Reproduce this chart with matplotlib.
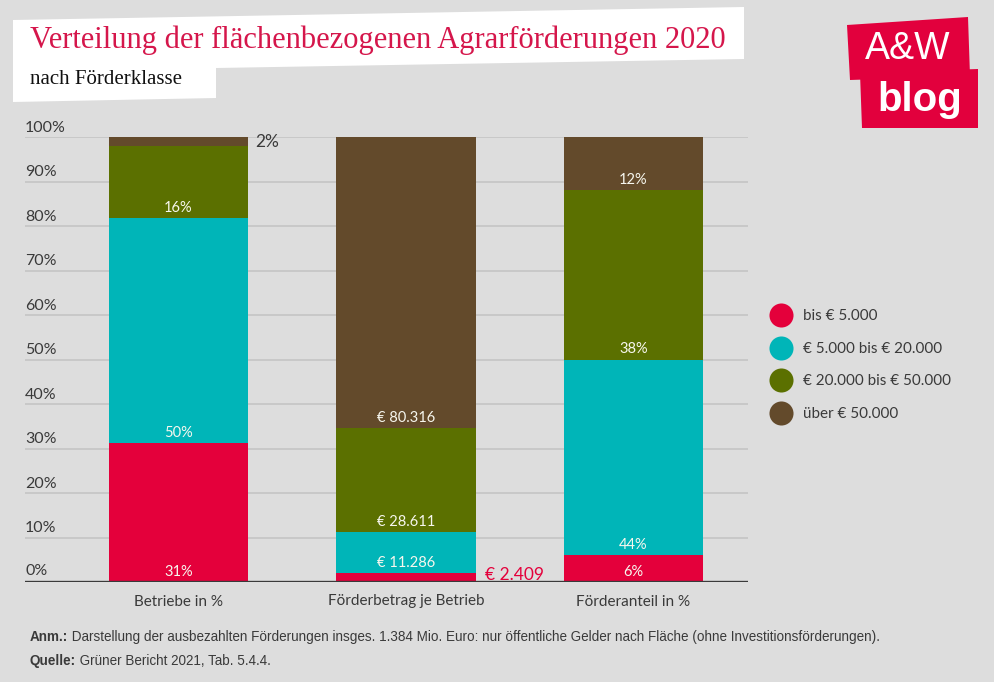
import matplotlib
matplotlib.use("Agg")
import matplotlib.pyplot as plt
from matplotlib.patches import Polygon
import numpy as np

# --- Daten ---
categories = ["Betriebe in %", "Förderbetrag je Betrieb", "Förderanteil in %"]
classes = ["bis € 5.000", "€ 5.000 bis € 20.000", "€ 20.000 bis € 50.000", "über € 50.000"]
colors = ["#e4003b", "#00b5b8", "#5b7000", "#634a2b"]

betriebe_pct = [31.2, 50.6, 16.2, 2.0]          # Anteil der Betriebe
betrag_eur = [2409, 11286, 28611, 80316]         # Förderbetrag je Betrieb (Balken auf Summe normiert)
anteil_pct = [6, 44, 38, 12]                     # Förderanteil

labels_betriebe = ["31%", "50%", "16%", "2%"]
labels_betrag = ["€ 2.409", "€ 11.286", "€ 28.611", "€ 80.316"]
labels_anteil = ["6%", "44%", "38%", "12%"]

yticks = [0, 10, 20, 30, 40, 50, 60, 70, 80, 90, 100]

BG = "#dddddd"
TXT = "#3a3a3a"
FONT = ["Lato", "DejaVu Sans"]

W, H = 995, 682
fig = plt.figure(figsize=(W / 100, H / 100), dpi=100, facecolor=BG)

# Overlay in Pixelkoordinaten fuer Kopf, Logo, Legende, Fussnote
ov = fig.add_axes([0, 0, 1, 1], zorder=0)
ov.set_xlim(0, W); ov.set_ylim(H, 0); ov.axis("off")

ax = fig.add_axes([25 / W, 1 - 582 / H, 723 / W, 445 / H], zorder=2)
ax.set_facecolor("none")

stacks = [
    np.array(betriebe_pct, float),
    np.array(betrag_eur, float) / sum(betrag_eur) * 100,
    np.array(anteil_pct, float),
]
seg_labels = [labels_betriebe, labels_betrag, labels_anteil]
x = np.arange(len(categories))
bw = 0.611

for i, vals in enumerate(stacks):
    bottom = 0.0
    for j, v in enumerate(vals):
        ax.bar(x[i], v, bw, bottom=bottom, color=colors[j], zorder=3, linewidth=0)
        lab = seg_labels[i][j]
        if i == 0 and j == 3:
            ax.text(x[i] + bw / 2 + 0.03, bottom + v / 2 - 0.2, lab, ha="left", va="center",
                    color=TXT, fontsize=12.5, family=FONT, zorder=4)
        elif i == 1 and j == 0:
            ax.text(x[i] + bw / 2 + 0.04, bottom + 1.6, lab, ha="left", va="center",
                    color=colors[0], fontsize=12.5, family=FONT, zorder=4)
        else:
            ax.text(x[i], bottom + 2.3, lab, ha="center", va="center",
                    color="#f7f7ee", fontsize=10.5, family=FONT, zorder=4)
        bottom += v

ax.set_xlim((25 - 178.5) / 227.5, (748 - 178.5) / 227.5)
ax.set_ylim(0, 100)
for t in yticks[1:]:
    ax.axhline(t, color="#c2c2c2", lw=1.1, zorder=1)
ax.axhline(0, color="#3a3a3a", lw=2.4, zorder=5)
for t in yticks:
    ax.text(0.0, t + 2.1 if t else 2.5, f"{t}%", transform=ax.get_yaxis_transform(),
            ha="left", va="center", color=TXT, fontsize=11.5, family=FONT)
ax.set_xticks(x)
ax.set_xticklabels(categories, family=FONT, fontsize=11, color=TXT)
ax.tick_params(axis="x", length=0, pad=9)
ax.set_yticks([])
for s in ax.spines.values():
    s.set_visible(False)

# Kopf: weisse, leicht gekippte Flaeche
ov.add_patch(Polygon([(13, 20), (744, 7), (744, 59), (216, 68), (216, 98), (13, 102)],
                     closed=True, facecolor="white", edgecolor="none"))
ov.text(30, 40, "Verteilung der flächenbezogenen Agrarförderungen 2020", ha="left", va="center",
        color="#d5164b", fontsize=22, family=["Liberation Serif", "DejaVu Serif"])
ov.text(30, 79, "nach Förderklasse", ha="left", va="center",
        color="#111111", fontsize=15, family=["Liberation Serif", "DejaVu Serif"])

# Logo
logo_red = "#e2003d"
ov.add_patch(Polygon([(847, 25), (968, 17), (970, 76), (850, 80)], closed=True,
                     facecolor=logo_red, edgecolor="none"))
ov.add_patch(Polygon([(860, 73), (978, 69), (978, 128), (862, 128)], closed=True,
                     facecolor=logo_red, edgecolor="none"))
ov.text(908, 49, "A&W", ha="center", va="center", color="white", fontsize=27,
        family=["Liberation Sans", "DejaVu Sans"])
ov.text(920, 100, "blog", ha="center", va="center", color="white", fontsize=29,
        fontweight="bold", family=["Liberation Sans", "DejaVu Sans"])

# Legende
for k, (name, c) in enumerate(zip(classes, colors)):
    yy = 315 + k * 32.7
    ov.scatter([781], [yy], s=300, color=c, zorder=3, linewidths=0)
    ov.text(803, yy + 1, name, ha="left", va="center", color=TXT, fontsize=11, family=FONT)

# Fussnote (Breite an Vorlage angepasst)
fn_font = ["Liberation Sans", "DejaVu Sans"]
notes = [(637, "Anm.:", " Darstellung der ausbezahlten Förderungen insges. 1.384 Mio. Euro: nur öffentliche Gelder nach Fläche (ohne Investitionsförderungen)."),
         (661, "Quelle:", " Grüner Bericht 2021, Tab. 5.4.4.")]
fig.canvas.draw()
r = fig.canvas.get_renderer()
probe = ov.text(0, 0, notes[0][1] + notes[0][2], fontsize=10, family=fn_font)
fs = 10 * 850 / probe.get_window_extent(renderer=r).width
probe.remove()
for yy, bold, rest in notes:
    tb = ov.text(30, yy, bold, ha="left", va="center", color=TXT, fontsize=fs,
                 fontweight="bold", family=fn_font)
    bb = tb.get_window_extent(renderer=r)
    ov.text(30 + bb.width, yy, rest, ha="left", va="center", color=TXT, fontsize=fs,
            family=fn_font)

fig.savefig("out.png", dpi=100, facecolor=BG)
